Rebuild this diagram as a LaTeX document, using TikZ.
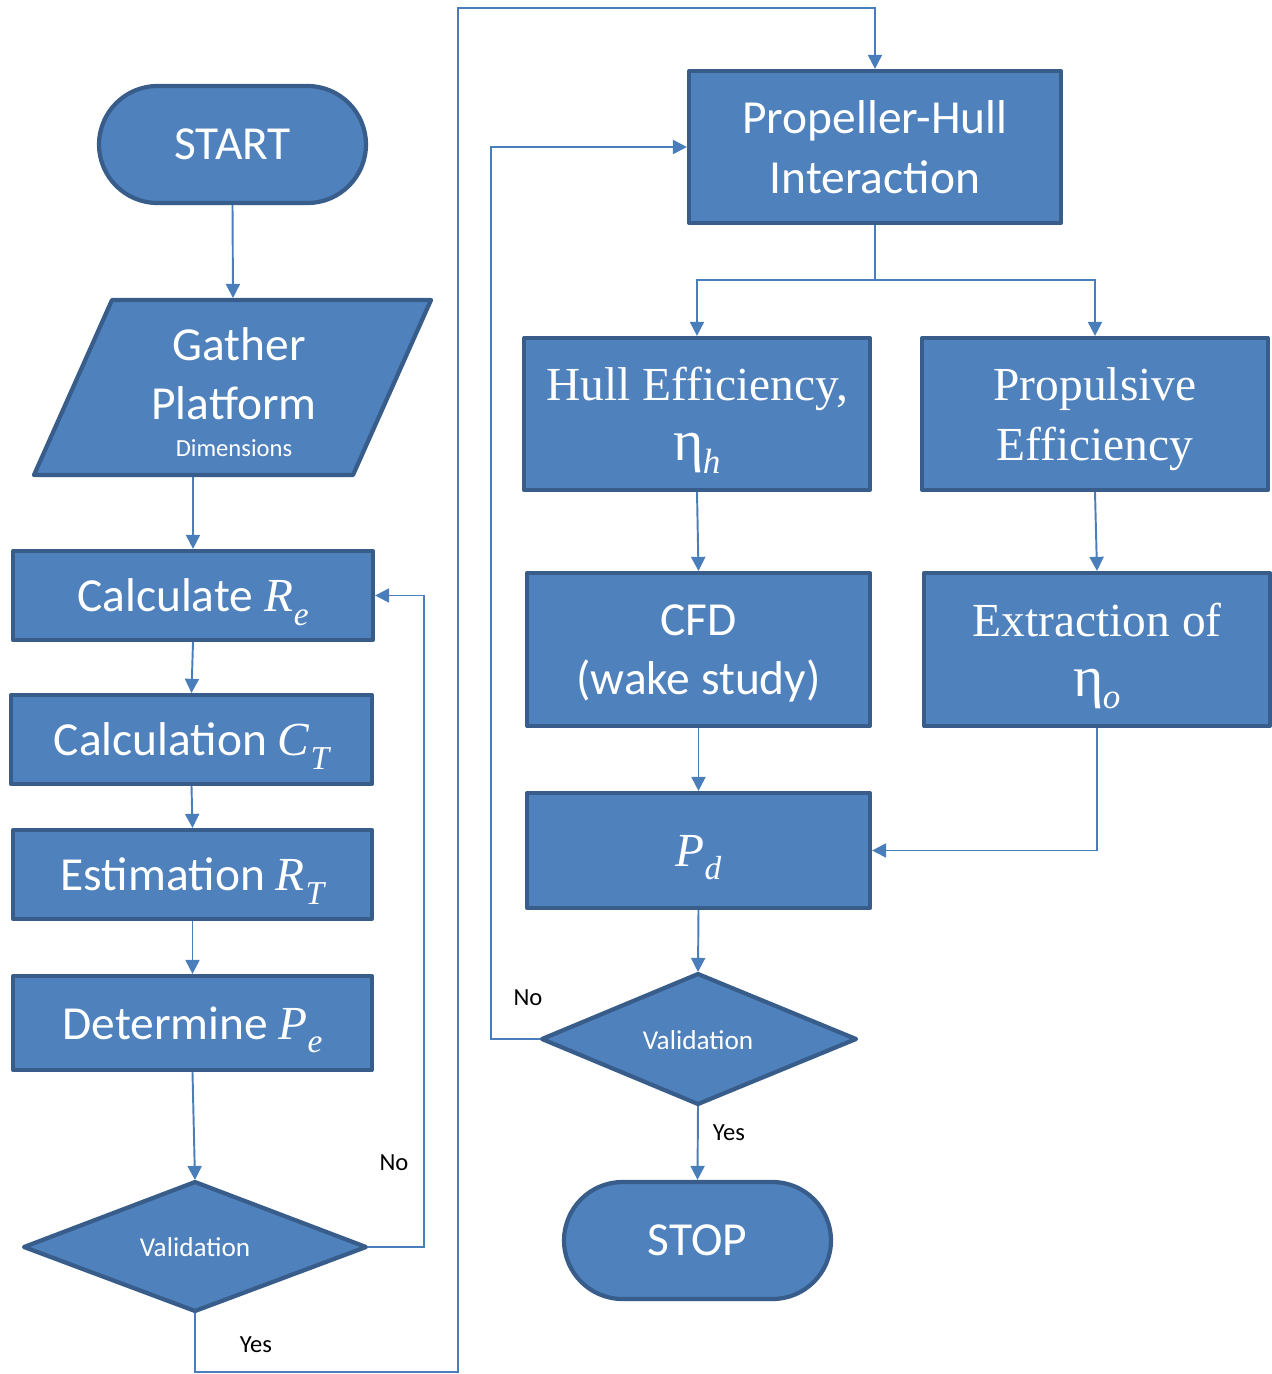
\documentclass[tikz,border=0pt]{standalone}
\usepackage{fontspec}
\setmainfont{Carlito}
\newfontfamily\serif{Liberation Serif}
\usetikzlibrary{arrows.meta}
\definecolor{boxfill}{HTML}{4F81BD}
\definecolor{boxline}{HTML}{385D8A}
\definecolor{connc}{HTML}{4A7EBB}
\newcommand\mvar[3][0.02em]{{\serif\itshape #2\kern#1\raisebox{-0.28em}{\fontsize{19}{19}\selectfont #3}}}
\newcommand\etavar[1]{{\serif\fontsize{33}{33}\selectfont η\kern-0.02em\raisebox{-0.22em}{\itshape\fontsize{20}{20}\selectfont #1}}}
\tikzset{
  shapebox/.style={fill=boxfill, draw=boxline, line width=2.4pt, line join=round, text=white, align=center, inner sep=0pt, font=\fontsize{27}{34}\selectfont},
  rectbox/.style={shapebox, rectangle, text depth=0pt},
  termbox/.style={shapebox, rectangle, rounded corners=1.17cm, minimum width=5.34cm, minimum height=2.34cm},
  serifbox/.style={rectbox, font=\serif\fontsize{27}{34}\selectfont},
  shapepath/.style={fill=boxfill, draw=boxline, line width=2.4pt, line join=round},
  conn/.style={draw=connc, line width=1.1pt, -{Triangle[length=8pt,width=8pt]}},
  plainline/.style={draw=connc, line width=1.1pt},
  lbl/.style={text=black, font=\fontsize{14}{16}\selectfont, inner sep=0pt},
  smalltxt/.style={text=white, font=\fontsize{15.5}{18}\selectfont, inner sep=0pt},
}
\begin{document}
\begin{tikzpicture}[x=0.02cm, y=-0.02cm]
\useasboundingbox (0,0) rectangle (1272,1374);

% left column
\node[termbox] (start) at (232.5,144.5) {START};

\path[shapepath] (112,300) -- (431,300) -- (353,475) -- (34,475) -- cycle;
\coordinate (gtop) at (233,298);
\coordinate (gbot) at (193,477);
\node[text=white, align=center, inner sep=0pt, font=\fontsize{27}{34}\selectfont] (gather) at (234,392)
  {\hspace*{6pt}Gather\\Platform\\[-13pt]{\fontsize{14}{16}\selectfont Dimensions}};

\node[rectbox, minimum width=7.2cm, minimum height=1.78cm] (re) at (193,595.5) {Calculate \mvar{R}{e}};
\node[rectbox, minimum width=7.22cm, minimum height=1.78cm] (ct) at (191.5,739.5) {Calculation \mvar{C}{T}};
\node[rectbox, minimum width=7.18cm, minimum height=1.78cm] (rt) at (192.5,874.5) {Estimation \mvar{R}{T}};
\node[rectbox, minimum width=7.18cm, minimum height=1.88cm] (pe) at (192.5,1023) {Determine \mvar[0em]{P}{e}};

\path[shapepath] (24,1247) -- (195,1182) -- (366,1247) -- (195,1311) -- cycle;
\coordinate (d1t) at (195,1180);
\coordinate (d1b) at (195,1313);
\coordinate (d1r) at (368,1247);
\node[smalltxt] (v1) at (195,1247) {Validation};

% right part
\node[rectbox, minimum width=7.44cm, minimum height=3.04cm] (ph) at (875,147) {Propeller-Hull\\Interaction};
\node[serifbox, minimum width=6.92cm, minimum height=3.04cm] (he) at (697,414) {Hull Efficiency,\\\etavar{h}};
\node[serifbox, minimum width=6.92cm, minimum height=3.04cm] (prop) at (1095,414) {Propulsive\\Efficiency};
\node[rectbox, minimum width=6.86cm, minimum height=3.06cm] (cfd) at (698.5,649.5) {CFD\\(wake study)};
\node[serifbox, minimum width=6.92cm, minimum height=3.06cm] (ex) at (1097,649.5) {Extraction of\\\etavar{o}};
\node[rectbox, minimum width=6.86cm, minimum height=2.3cm] (pd) at (698.5,850.5) {\mvar[0em]{P}{d}};

\path[shapepath] (542,1039) -- (698,974) -- (856,1039) -- (698,1104) -- cycle;
\coordinate (d2t) at (698,972);
\coordinate (d2b) at (698,1106);
\coordinate (d2l) at (540,1039);
\node[smalltxt] (v2) at (698,1040) {Validation};

\node[termbox] (stop) at (697.5,1240.5) {STOP};

% connectors
\draw[conn] (start.south) -- (gtop);
\draw[conn] (gbot) -- (re.north);
\draw[conn] (re.south) -- (ct.north);
\draw[conn] (ct.south) -- (rt.north);
\draw[conn] (rt.south) -- (pe.north);
\draw[conn] (pe.south) -- (d1t);

\coordinate (n1) at (424,1247);
\draw[conn] (d1r) -- (n1) |- (re.east);
\node[lbl] (no1) at (394,1163) {No};

\coordinate (y1) at (195,1372);
\coordinate (y2) at (458,1372);
\coordinate (y3) at (458,8);
\draw[conn] (d1b) -- (y1) -- (y2) -- (y3) -| (ph.north);
\node[lbl] (yes1) at (256,1345) {Yes};

\coordinate (sp) at (875,280);
\draw[plainline] (ph.south) -- (sp);
\draw[conn] (sp) -| (he.north);
\draw[conn] (sp) -| (prop.north);
\draw[conn] (he.south) -- (cfd.north);
\draw[conn] (prop.south) -- (ex.north);
\draw[conn] (cfd.south) -- (pd.north);
\draw[conn] (ex.south) |- (pd.east);
\draw[conn] (pd.south) -- (d2t);

\coordinate (n2) at (491,1039);
\draw[conn] (d2l) -- (n2) |- (ph.west);
\node[lbl] (no2) at (528,998) {No};

\draw[conn] (d2b) -- (stop.north);
\node[lbl] (yes2) at (729,1133) {Yes};
\end{tikzpicture}
\end{document}
